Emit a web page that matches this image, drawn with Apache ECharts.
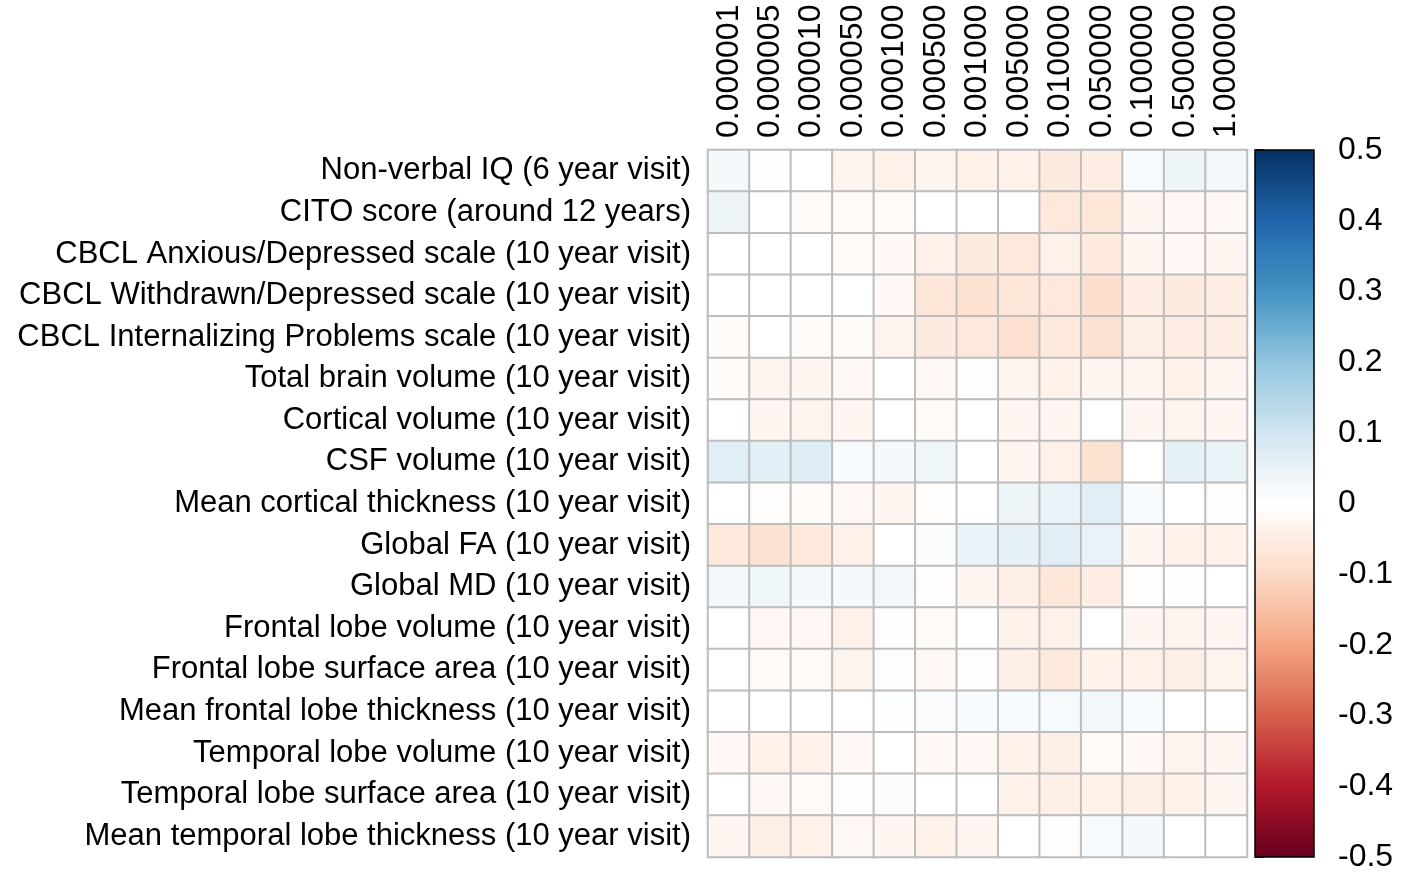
<!DOCTYPE html>
<html>
<head>
<meta charset="utf-8">
<script src="https://cdn.jsdelivr.net/npm/echarts@6/dist/echarts.min.js"></script>
<style>
html, body { margin: 0; padding: 0; background: #fff; }
#main { width: 1417px; height: 882px; }
</style>
</head>
<body>
<div id="main"></div>
<script>
var thresholds = ['0.000001', '0.000005', '0.000010', '0.000050', '0.000100', '0.000500',
    '0.001000', '0.005000', '0.010000', '0.050000', '0.100000', '0.500000', '1.000000'];

var outcomes = [
    'Non-verbal IQ (6 year visit)',
    'CITO score (around 12 years)',
    'CBCL Anxious/Depressed scale (10 year visit)',
    'CBCL Withdrawn/Depressed scale (10 year visit)',
    'CBCL Internalizing Problems scale (10 year visit)',
    'Total brain volume (10 year visit)',
    'Cortical volume (10 year visit)',
    'CSF volume (10 year visit)',
    'Mean cortical thickness (10 year visit)',
    'Global FA (10 year visit)',
    'Global MD (10 year visit)',
    'Frontal lobe volume (10 year visit)',
    'Frontal lobe surface area (10 year visit)',
    'Mean frontal lobe thickness (10 year visit)',
    'Temporal lobe volume (10 year visit)',
    'Temporal lobe surface area (10 year visit)',
    'Mean temporal lobe thickness (10 year visit)'
];

// one row per outcome, one value per p-value threshold
var corr = [
    [0.025, 0.005, 0.0, -0.03, -0.04, -0.03, -0.04, -0.035, -0.055, -0.05, 0.015, 0.04, 0.03],
    [0.04, 0.0, -0.01, -0.01, -0.015, 0.0, 0.0, 0.0, -0.065, -0.07, -0.025, -0.02, -0.02],
    [0.0, 0.0, 0.0, -0.01, -0.02, -0.04, -0.055, -0.065, -0.04, -0.06, -0.025, -0.02, -0.025],
    [0.0, 0.0, 0.0, 0.0, -0.02, -0.07, -0.08, -0.07, -0.065, -0.09, -0.05, -0.055, -0.05],
    [-0.01, 0.0, -0.01, -0.01, -0.03, -0.055, -0.065, -0.085, -0.06, -0.08, -0.045, -0.05, -0.05],
    [-0.01, -0.03, -0.025, -0.02, 0.0, -0.02, -0.005, -0.03, -0.035, -0.025, -0.03, -0.035, -0.025],
    [0.0, -0.025, -0.03, -0.025, 0.0, -0.01, 0.0, -0.025, -0.025, 0.0, -0.025, -0.03, -0.025],
    [0.065, 0.06, 0.07, 0.015, 0.025, 0.035, 0.0, -0.025, -0.04, -0.08, 0.0, 0.055, 0.045],
    [0.0, -0.005, -0.01, -0.02, -0.025, -0.005, 0.0, 0.04, 0.045, 0.065, 0.015, 0.0, -0.005],
    [-0.065, -0.08, -0.06, -0.04, 0.0, 0.01, 0.045, 0.055, 0.065, 0.05, -0.025, -0.04, -0.035],
    [0.03, 0.035, 0.025, 0.025, 0.03, -0.005, -0.025, -0.045, -0.07, -0.05, -0.005, 0.005, 0.0],
    [0.0, -0.02, -0.02, -0.04, -0.005, -0.01, 0.0, -0.035, -0.04, 0.0, -0.025, -0.03, -0.025],
    [0.0, -0.015, -0.015, -0.03, -0.005, -0.02, -0.005, -0.045, -0.06, -0.035, -0.04, -0.045, -0.03],
    [0.0, 0.0, 0.0, 0.0, 0.005, 0.01, 0.015, 0.015, 0.02, 0.03, 0.02, 0.0, 0.0],
    [-0.02, -0.04, -0.035, -0.02, 0.0, -0.02, -0.02, -0.035, -0.045, -0.015, -0.02, -0.03, -0.025],
    [0.0, -0.02, -0.015, -0.005, 0.01, 0.0, 0.0, -0.035, -0.045, -0.04, -0.045, -0.035, -0.025],
    [-0.025, -0.045, -0.04, -0.02, -0.025, -0.035, -0.025, 0.0, -0.005, 0.015, 0.025, 0.0, 0.0]
];

var rdbu = ['#67001F', '#B2182B', '#D6604D', '#F4A582', '#FDDBC7', '#FFFFFF',
    '#D1E5F0', '#92C5DE', '#4393C3', '#2166AC', '#053061'];

var cells = [];
for (var r = 0; r < corr.length; r++) {
    for (var c = 0; c < corr[r].length; c++) {
        cells.push([c, r, corr[r][c]]);
    }
}

var font = 'Liberation Sans, Arial, sans-serif';
var myChart = echarts.init(document.getElementById('main'));

var option = {
    animation: false,
    grid: [
        { left: 708, right: 170, top: 150, bottom: 25 },
        { left: 1255, width: 59, top: 150, height: 707, show: true,
          borderColor: '#000', borderWidth: 1.5, backgroundColor: 'transparent', z: 5 }
    ],
    xAxis: [
        {
            type: 'category',
            gridIndex: 0,
            position: 'top',
            data: thresholds,
            axisLine: { show: false },
            axisTick: { show: false },
            splitLine: { show: false },
            axisLabel: { rotate: -90, fontSize: 32, color: '#000', fontFamily: font, margin: 12, interval: 0 }
        },
        {
            type: 'value', gridIndex: 1, min: 0, max: 1, show: false
        }
    ],
    yAxis: [
        {
            type: 'category',
            gridIndex: 0,
            inverse: true,
            data: outcomes,
            axisLine: { show: false },
            axisTick: { show: false },
            splitLine: { show: false },
            axisLabel: { fontSize: 31, color: '#000', fontFamily: font, margin: 17, interval: 0,
                padding: [6, 0, 0, 0] }
        },
        {
            type: 'value',
            gridIndex: 1,
            position: 'right',
            min: -0.5,
            max: 0.5,
            interval: 0.1,
            axisLine: { show: false },
            splitLine: { show: false },
            axisTick: { show: true, length: 9, lineStyle: { color: '#000', width: 1.5 } },
            axisLabel: {
                fontSize: 32, color: '#000', fontFamily: font, margin: 24,
                formatter: function (v) { return String(Math.round(v * 10) / 10); }
            }
        }
    ],
    visualMap: {
        type: 'continuous',
        min: -0.5,
        max: 0.5,
        seriesIndex: 0,
        calculable: false,
        realtime: false,
        left: 1255,
        top: 150,
        padding: 0,
        itemWidth: 59,
        itemHeight: 707,
        showLabel: false,
        text: ['', ''],
        inRange: { color: rdbu }
    },
    series: [
        {
            type: 'heatmap',
            xAxisIndex: 0,
            yAxisIndex: 0,
            data: cells,
            itemStyle: { borderColor: '#BDBDBD', borderWidth: 2 },
            emphasis: { disabled: true },
            label: { show: false }
        }
    ]
};
myChart.setOption(option);
</script>
</body>
</html>
